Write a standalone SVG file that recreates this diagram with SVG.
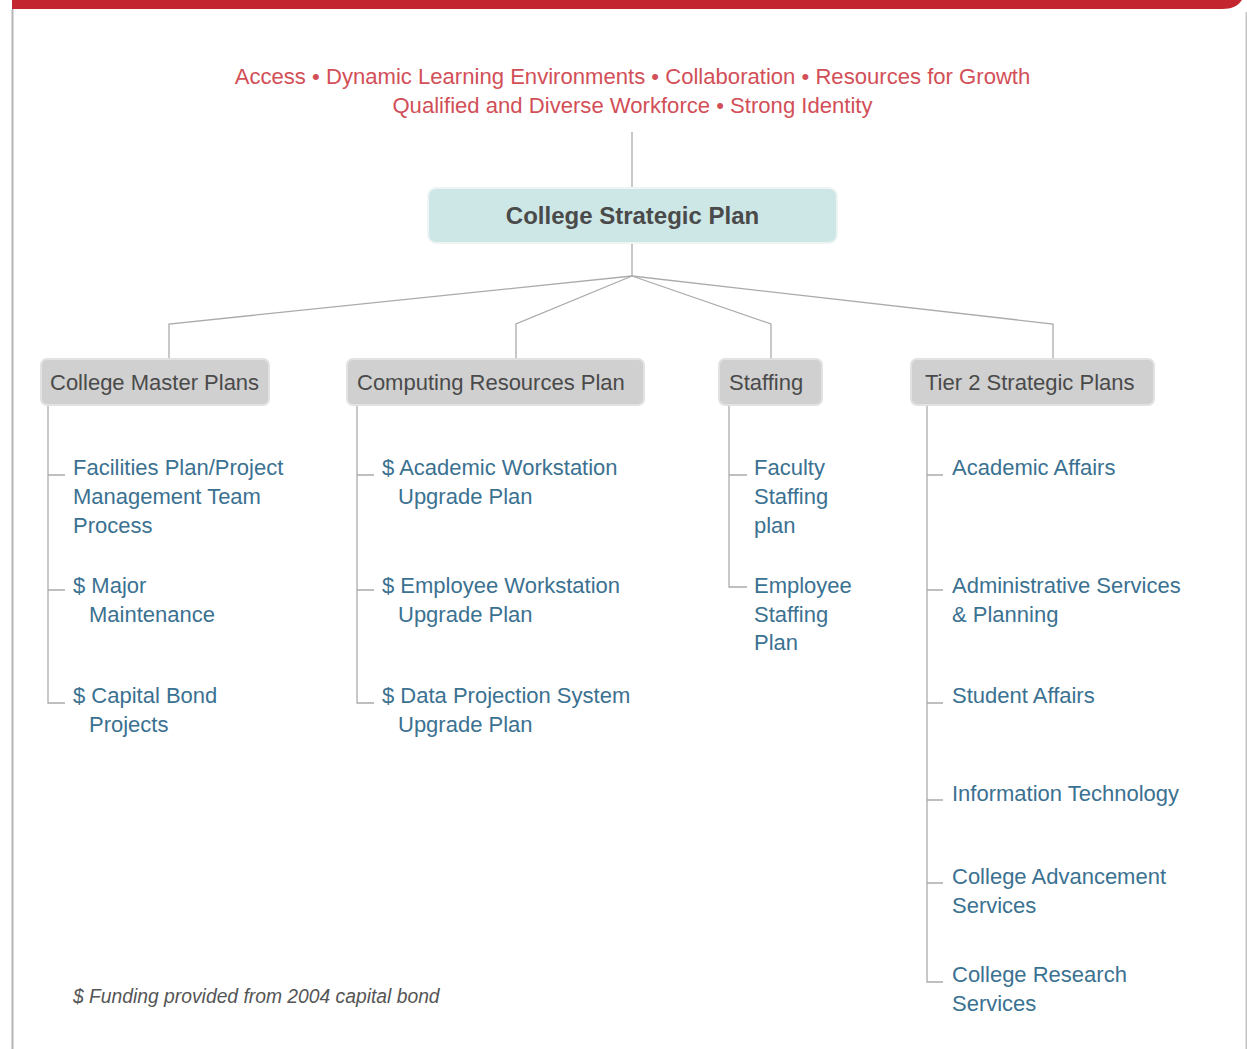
<svg xmlns="http://www.w3.org/2000/svg" width="1247" height="1049" viewBox="0 0 1247 1049">
<style>
.tag{font-family:"Liberation Sans",Arial,sans-serif;font-size:22.1px;fill:#d24f58;text-anchor:middle}
.root{font-family:"Liberation Sans",Arial,sans-serif;font-size:24px;font-weight:bold;fill:#4a4a4a;text-anchor:middle}
.hdr{font-family:"Liberation Sans",Arial,sans-serif;font-size:22px;fill:#4a4a4a}
.item{font-family:"Liberation Sans",Arial,sans-serif;font-size:22px;fill:#3b7191}
.note{font-family:"Liberation Sans",Arial,sans-serif;font-size:19.3px;font-style:italic;fill:#555555}
.hbox{fill:#d0d0d0;stroke:#e2e2e2;stroke-width:2}
.rbox{fill:#cde7e6;stroke:#eef4f4;stroke-width:2}
.ln{fill:none;stroke:#ababab;stroke-width:1.3}
</style>
<rect width="1247" height="1049" fill="#ffffff"/>
<g id="frame">
<path d="M12,0 H1242 C1238,6 1232,9 1222,9 H12 Z" fill="#c4262f"/>
<rect x="11.5" y="9" width="2" height="1040" fill="#b5b5b5"/>
<rect x="1245.5" y="12" width="1.5" height="1037" fill="#c4c4c4"/>
</g>
<g id="values">
<text class="tag" x="632.5" y="84">Access • Dynamic Learning Environments • Collaboration • Resources for Growth</text>
<text class="tag" x="632.5" y="113">Qualified and Diverse Workforce • Strong Identity</text>
</g>
<g id="connectors">
<path class="ln" d="M632,132 V188"/>
<path class="ln" d="M632,243 V276"/>
<path class="ln" d="M632,276 L169,324 V359"/>
<path class="ln" d="M632,276 L516,324 V359"/>
<path class="ln" d="M632,276 L771,324 V359"/>
<path class="ln" d="M632,276 L1053,324 V359"/>
<path class="ln" d="M48,406 V703 H65 M48,475 H65 M48,590 H65"/>
<path class="ln" d="M357,406 V703 H374 M357,475 H374 M357,590 H374"/>
<path class="ln" d="M729,406 V587 H747 M729,475 H747"/>
<path class="ln" d="M927,406 V982 H943 M927,475 H943 M927,590 H943 M927,703 H943 M927,800 H943 M927,883 H943"/>
</g>
<g id="college-strategic-plan">
<rect class="rbox" x="428" y="188" width="409" height="55" rx="8"/>
<text class="root" x="632.5" y="224">College Strategic Plan</text>
</g>
<g id="college-master-plans">
<rect class="hbox" x="41" y="359" width="228" height="46" rx="6"/>
<text class="hdr" x="50" y="390">College Master Plans</text>
</g>
<g id="computing-resources-plan">
<rect class="hbox" x="347" y="359" width="297" height="46" rx="6"/>
<text class="hdr" x="357" y="390">Computing Resources Plan</text>
</g>
<g id="staffing">
<rect class="hbox" x="719" y="359" width="103" height="46" rx="6"/>
<text class="hdr" x="729" y="390">Staffing</text>
</g>
<g id="tier2">
<rect class="hbox" x="911" y="359" width="243" height="46" rx="6"/>
<text class="hdr" x="925" y="390">Tier 2 Strategic Plans</text>
</g>
<g id="facilities">
<text class="item" x="73" y="475">Facilities Plan/Project</text>
<text class="item" x="73" y="504">Management Team</text>
<text class="item" x="73" y="533">Process</text>
</g>
<g id="major-maintenance">
<text class="item" x="73" y="593">$ Major</text>
<text class="item" x="89" y="622">Maintenance</text>
</g>
<g id="capital-bond">
<text class="item" x="73" y="703">$ Capital Bond</text>
<text class="item" x="89" y="732">Projects</text>
</g>
<g id="academic-workstation">
<text class="item" x="382" y="475">$ Academic Workstation</text>
<text class="item" x="398" y="504">Upgrade Plan</text>
</g>
<g id="employee-workstation">
<text class="item" x="382" y="593">$ Employee Workstation</text>
<text class="item" x="398" y="622">Upgrade Plan</text>
</g>
<g id="data-projection">
<text class="item" x="382" y="703">$ Data Projection System</text>
<text class="item" x="398" y="732">Upgrade Plan</text>
</g>
<g id="faculty-staffing">
<text class="item" x="754" y="475">Faculty</text>
<text class="item" x="754" y="504">Staffing</text>
<text class="item" x="754" y="533">plan</text>
</g>
<g id="employee-staffing">
<text class="item" x="754" y="593">Employee</text>
<text class="item" x="754" y="622">Staffing</text>
<text class="item" x="754" y="650">Plan</text>
</g>
<g id="academic-affairs">
<text class="item" x="952" y="475">Academic Affairs</text>
</g>
<g id="admin-services">
<text class="item" x="952" y="593">Administrative Services</text>
<text class="item" x="952" y="622">&amp; Planning</text>
</g>
<g id="student-affairs">
<text class="item" x="952" y="703">Student Affairs</text>
</g>
<g id="information-technology">
<text class="item" x="952" y="801">Information Technology</text>
</g>
<g id="college-advancement">
<text class="item" x="952" y="884">College Advancement</text>
<text class="item" x="952" y="913">Services</text>
</g>
<g id="college-research">
<text class="item" x="952" y="982">College Research</text>
<text class="item" x="952" y="1011">Services</text>
</g>
<g id="footnote">
<text class="note" x="73" y="1003">$ Funding provided from 2004 capital bond</text>
</g>
</svg>
